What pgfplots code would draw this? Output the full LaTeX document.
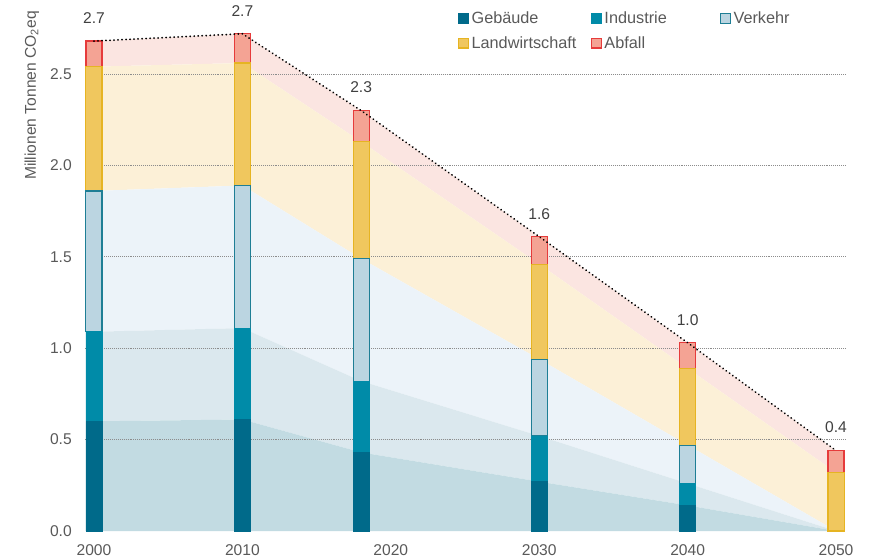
\documentclass[border=0pt]{standalone}
\usepackage{fontspec}
\setmainfont{Liberation Sans}
\usepackage{pgfplots}
\usepackage{pgfplotstable}
\pgfplotsset{compat=1.18}

% bar colours
\definecolor{gebB}{HTML}{006A8A}
\definecolor{indB}{HTML}{008BA8}
\definecolor{verB}{HTML}{BBD5E1}
\definecolor{verL}{HTML}{1E7E95}
\definecolor{lanB}{HTML}{F0C75E}
\definecolor{lanL}{HTML}{E6B422}
\definecolor{abfB}{HTML}{F4A394}
\definecolor{abfL}{HTML}{E63B3B}
% band colours between the bars
\definecolor{gebA}{HTML}{C2DBE2}
\definecolor{indA}{HTML}{DBE8EE}
\definecolor{verA}{HTML}{ECF3F9}
\definecolor{lanA}{HTML}{FCF0D7}
\definecolor{abfA}{HTML}{FBE5E1}
\definecolor{txt}{HTML}{595959}
\definecolor{gridC}{HTML}{8C8C8C}

% emissions by sector, million tonnes CO2eq
\pgfplotstableread{
year geb  ind  ver  lan  abf
2000 0.60 0.49 0.77 0.68 0.14
2010 0.61 0.50 0.78 0.67 0.16
2018 0.43 0.39 0.67 0.64 0.17
2030 0.27 0.25 0.42 0.52 0.15
2040 0.14 0.12 0.21 0.42 0.14
2050 0.00 0.00 0.00 0.32 0.12
}\emissions
\pgfplotstablecreatecol[expr={\thisrow{geb}+\thisrow{ind}+\thisrow{ver}+\thisrow{lan}+\thisrow{abf}}]{total}\emissions

\pgfplotsset{
  frame/.style={
    scale only axis, width=569.9pt, height=383.9pt,
    xmin=1999.4, xmax=2050.6, ymin=0, ymax=2.8,
    at={(0,0)}, anchor=south west,
    axis line style={draw=none}, major tick length=0pt,
    tick label style={font=\fontsize{11.7}{14}\selectfont, text=txt},
    /pgf/number format/assume math mode=true,
  },
  sq/.style={legend image code/.code={
    \draw[##1,line width=0.8pt] (0pt,-3.6pt) rectangle (7.2pt,3.6pt);}},
}

\begin{document}
\begin{tikzpicture}[font=\fontsize{11.7}{14}\selectfont]

% shaded bands joining the bars
\begin{axis}[frame, stack plots=y,
  xtick={2000,2010,2020,2030,2040,2050},
  x tick label style={/pgf/number format/1000 sep={}, yshift=-7pt},
  ytick={0,0.5,1,1.5,2,2.5},
  y tick label style={xshift=-6.5pt, /pgf/number format/.cd, fixed, fixed zerofill, precision=1},
  ylabel={Millionen Tonnen CO\textsubscript{2}eq},
  ylabel style={at={(axis description cs:-0.0699,1.025)}, anchor=east, text=txt, font=\fontsize{11.7}{14}\selectfont},
]
  \addplot[fill=gebA, draw=none] table[x=year, y=geb]{\emissions} \closedcycle;
  \addplot[fill=indA, draw=none] table[x=year, y=ind]{\emissions} \closedcycle;
  \addplot[fill=verA, draw=none] table[x=year, y=ver]{\emissions} \closedcycle;
  \addplot[fill=lanA, draw=none] table[x=year, y=lan]{\emissions} \closedcycle;
  \addplot[fill=abfA, draw=none] table[x=year, y=abf]{\emissions} \closedcycle;
\end{axis}

% stacked bars, grid and legend
\begin{axis}[frame, ybar stacked, bar width=1.08,
  xtick=\empty, ytick={0.5,1,1.5,2,2.5}, yticklabels={},
  ymajorgrids, grid style={gridC, line width=0.45pt, densely dotted},
  legend columns=3, legend cell align=left,
  legend style={at={(axis description cs:0.4908,1.02)}, anchor=north west,
    draw=none, fill=none, text=txt, inner sep=0pt, row sep=4pt,
    font=\fontsize{12.2}{14}\selectfont,
    /tikz/column 2/.style={column sep=9pt},
    /tikz/column 4/.style={column sep=38pt}},
]
  \addplot[fill=gebB, draw=gebB, line width=0.6pt, sq] table[x=year, y=geb]{\emissions};
  \addplot[fill=indB, draw=indB, line width=0.6pt, sq] table[x=year, y=ind]{\emissions};
  \addplot[fill=verB, draw=verL, line width=0.8pt, sq] table[x=year, y=ver]{\emissions};
  \addplot[fill=lanB, draw=lanL, line width=0.8pt, sq] table[x=year, y=lan]{\emissions};
  \addplot[fill=abfB, draw=abfL, line width=0.9pt, sq] table[x=year, y=abf]{\emissions};
  \legend{Gebäude, Industrie, Verkehr, Landwirtschaft, Abfall}
\end{axis}

% total emissions trend with value labels
\begin{axis}[frame, hide axis, clip=false]
  \addplot[black, line width=1.5pt, line cap=round, dash pattern=on 0.01pt off 3pt,
    mark=none, point meta=y,
    nodes near coords={\pgfmathprintnumber[fixed,fixed zerofill,precision=1]{\pgfplotspointmeta}},
    nodes near coords style={anchor=south, yshift=9pt, text=black!75, font=\fontsize{11.7}{14}\selectfont}]
    table[x=year, y=total]{\emissions};
\end{axis}

\pgfresetboundingbox
\path (-63.8pt,-20.25pt) rectangle (591.7pt,398.25pt);
\end{tikzpicture}
\end{document}
